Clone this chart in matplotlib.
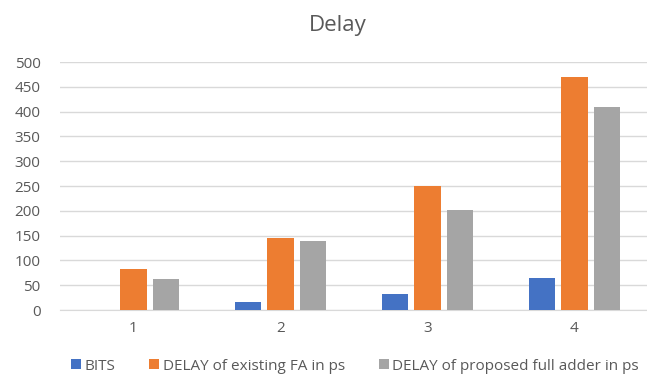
import matplotlib
matplotlib.use("Agg")
import matplotlib.pyplot as plt
import numpy as np
from matplotlib.patches import Patch

plt.rcParams['font.family'] = ['Open Sans', 'DejaVu Sans']

categories = ["1", "2", "3", "4"]
bits = [0, 16, 32, 64]
delay_existing = [83, 145, 250, 469]
delay_proposed = [63, 139, 202, 410]
series_names = ["BITS", "DELAY of existing FA in ps", "DELAY of proposed full adder in ps"]
colors = ["#4472C4", "#ED7D31", "#A5A5A5"]
yticks = list(range(0, 501, 50))

fig = plt.figure(figsize=(6.47, 3.75), dpi=100)
ax = fig.add_axes([60/647, 1 - 310/375, 588/647, 248/375])

x = np.arange(len(categories))
w = 0.177
step = 0.221
for i, (vals, c) in enumerate(zip([bits, delay_existing, delay_proposed], colors)):
    ax.bar(x + (i - 1) * step, vals, width=w, color=c, zorder=3)

ax.set_xlim(-0.5, 3.5)
ax.set_ylim(0, 500)
ax.set_yticks(yticks)
ax.set_xticks(x)
ax.set_xticklabels(categories)
ax.yaxis.grid(True, color="#D9D9D9", linewidth=1.0, zorder=0)
for s in ["top", "right", "left"]:
    ax.spines[s].set_visible(False)
ax.spines["bottom"].set_color("#D9D9D9")
ax.tick_params(axis="both", length=0, colors="#595959", labelsize=11)
ax.tick_params(axis="x", pad=8)
ax.tick_params(axis="y", pad=14)

fig.text(338/647, 1 - 25/375, "Delay", ha="center", va="center", fontsize=16, color="#595959")

handles = [Patch(facecolor=c, edgecolor="none") for c in colors]
fig.legend(handles, series_names, loc="center", bbox_to_anchor=(355/647, 1 - 366/375),
           ncol=3, frameon=False, fontsize=11, handlelength=0.65, handleheight=0.65,
           handletextpad=0.25, columnspacing=2.2, labelcolor="#595959")

fig.savefig("out.png", dpi=100)
